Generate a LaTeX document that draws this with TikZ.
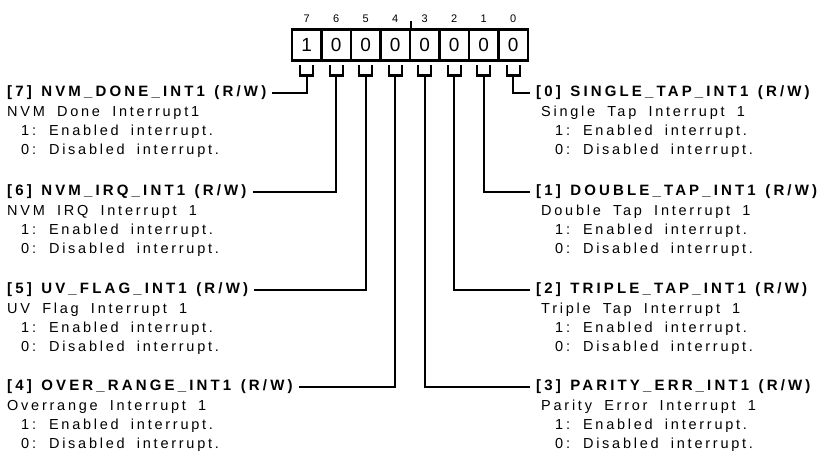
\documentclass[tikz,border=0pt]{standalone}
\usepackage{fontspec}
\newfontfamily\regfont[LetterSpace=19, WordSpace=1.8]{Liberation Sans}
\newfontfamily\fieldfont[LetterSpace=21, WordSpace=1.3]{Liberation Sans Bold}
\newfontfamily\digitfont{Liberation Sans}
\usetikzlibrary{positioning}
\newcommand{\irqlines}{\hspace*{14pt}1:\hspace{13pt}Enabled interrupt.\\\hspace*{14pt}0:\hspace{13pt}Disabled interrupt.}

\begin{document}
\begin{tikzpicture}[x=1pt, y=-1pt,
        cell/.style={draw, line width=2.6pt, minimum width=29.5pt, minimum height=31pt, inner sep=0pt, font=\fontsize{19}{19}\selectfont\digitfont},
        bitno/.style={inner sep=0pt, font=\fontsize{11}{11}\selectfont\digitfont},
        field/.style={inner xsep=6pt, inner ysep=0pt, font=\fontsize{15}{15}\selectfont\fieldfont},
        desc/.style={inner sep=0pt, align=left, font=\fontsize{14.5}{19}\selectfont\regfont},
        wire/.style={line width=2.4pt}]
        \useasboundingbox (0,0) rectangle (825,463);

        % Registro: celdas, numeros de bit y soportes
        \foreach \v [count=\j from 0] in {1,0,0,0,0,0,0,0} {
            \pgfmathtruncatemacro{\b}{7-\j}
            \node [cell] (c\b) at (306.75+29.5*\j, 45) {\v};
            \node [bitno] (n\b) at (306.75+29.5*\j, 19) {\b};
            \coordinate (b\b) at ([yshift=-13.5]c\b.south);
            \draw [wire] ([xshift=-6.5, yshift=-3.5]c\b.south) |- (b\b) -| ([xshift=6.5, yshift=-3.5]c\b.south);
        }
        \draw [line width=2pt] (c4.north east) -- ++(0,-7.5);

        % Columna izquierda: bits 7 a 4
        \node [field, anchor=west] (t7) at (1,93) {[7] NVM\_DONE\_INT1 (R/W)};
        \node [field, anchor=west] (t6) at (1,192) {[6] NVM\_IRQ\_INT1 (R/W)};
        \node [field, anchor=west] (t5) at (1,290) {[5] UV\_FLAG\_INT1 (R/W)};
        \node [field, anchor=west] (t4) at (1,387) {[4] OVER\_RANGE\_INT1 (R/W)};
        \node [desc, anchor=north west] (d7) at ([xshift=6, yshift=-6]t7.south west) {NVM Done Interrupt1\\\irqlines};
        \node [desc, anchor=north west] (d6) at ([xshift=6, yshift=-6]t6.south west) {NVM IRQ Interrupt 1\\\irqlines};
        \node [desc, anchor=north west] (d5) at ([xshift=6, yshift=-6]t5.south west) {UV Flag Interrupt 1\\\irqlines};
        \node [desc, anchor=north west] (d4) at ([xshift=6, yshift=-6]t4.south west) {Overrange Interrupt 1\\\irqlines};

        % Columna derecha: bits 0 a 3
        \node [field, anchor=west] (t0) at (530,93) {[0] SINGLE\_TAP\_INT1 (R/W)};
        \node [field, anchor=west] (t1) at (530,192) {[1] DOUBLE\_TAP\_INT1 (R/W)};
        \node [field, anchor=west] (t2) at (530,290) {[2] TRIPLE\_TAP\_INT1 (R/W)};
        \node [field, anchor=west] (t3) at (530,387) {[3] PARITY\_ERR\_INT1 (R/W)};
        \node [desc, anchor=north west] (d0) at ([xshift=11, yshift=-6]t0.south west) {Single Tap Interrupt 1\\\irqlines};
        \node [desc, anchor=north west] (d1) at ([xshift=11, yshift=-6]t1.south west) {Double Tap Interrupt 1\\\irqlines};
        \node [desc, anchor=north west] (d2) at ([xshift=11, yshift=-6]t2.south west) {Triple Tap Interrupt 1\\\irqlines};
        \node [desc, anchor=north west] (d3) at ([xshift=11, yshift=-6]t3.south west) {Parity Error Interrupt 1\\\irqlines};

        % Conexiones bit -> campo
        \foreach \b in {7,6,5,4,3,2,1,0}
            \draw [wire] (b\b) |- (t\b);
    \end{tikzpicture}
\end{document}
